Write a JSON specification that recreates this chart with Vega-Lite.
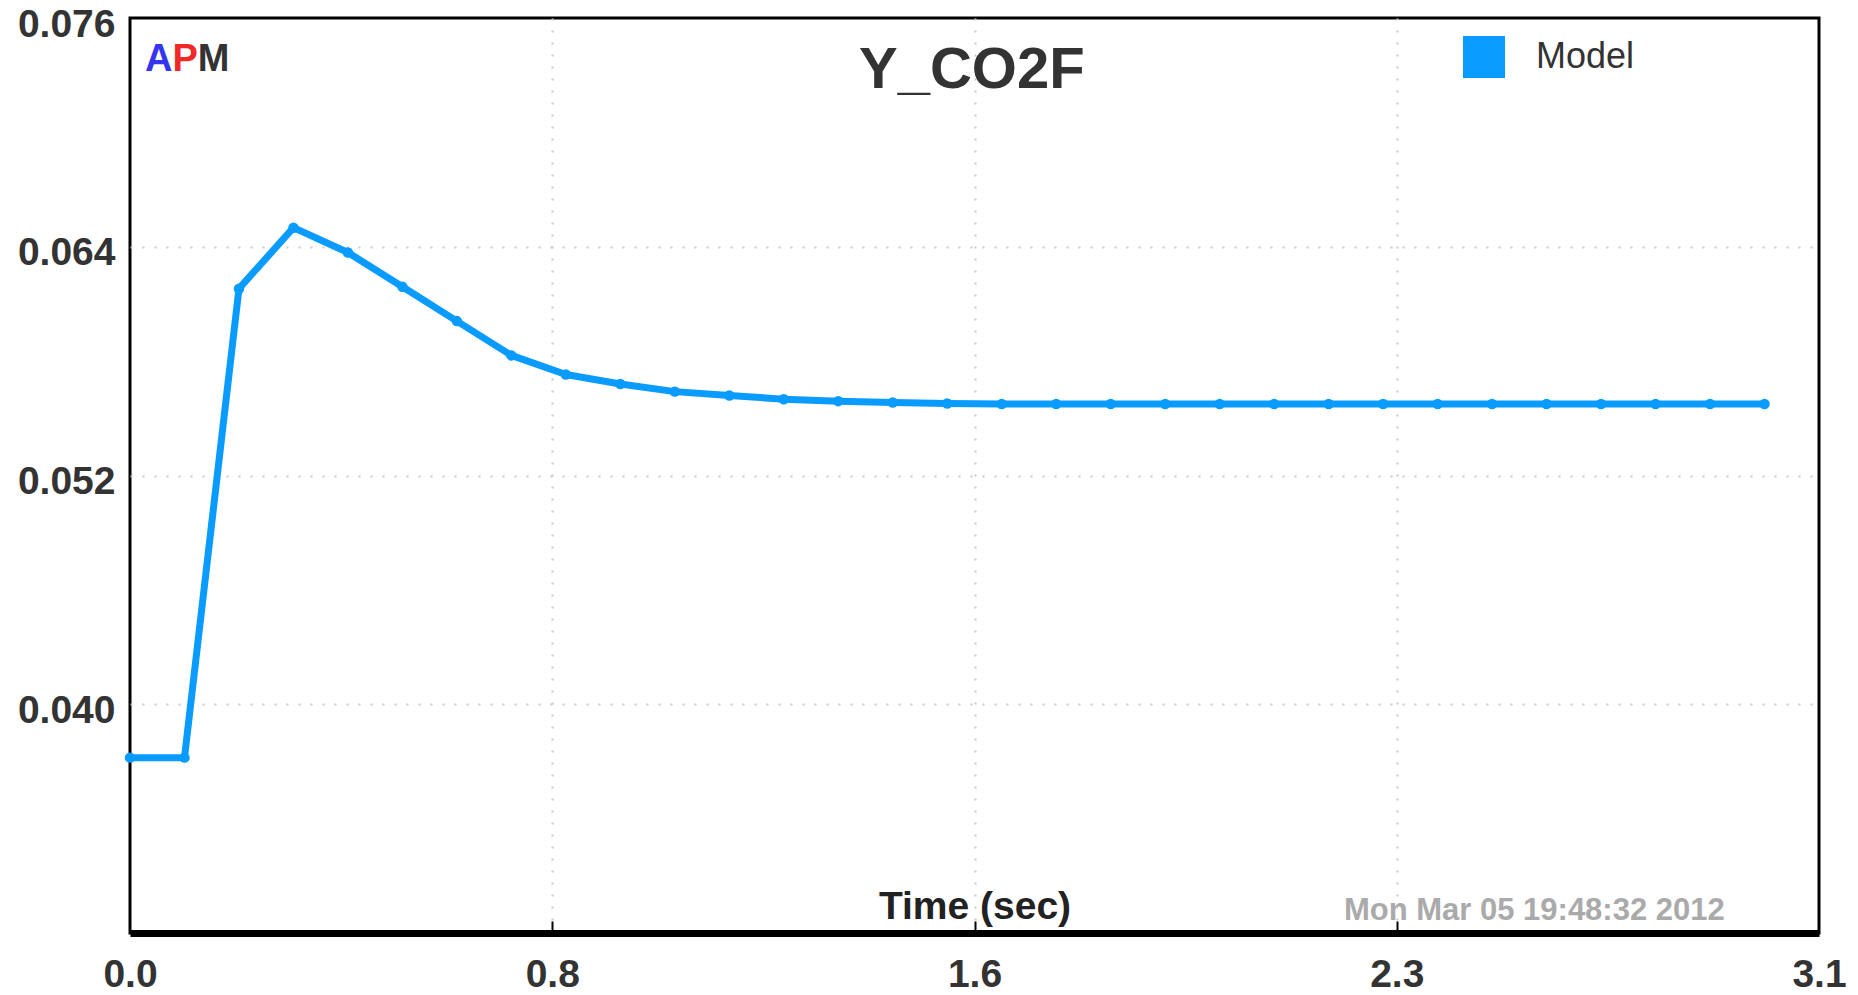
{
  "$schema": "https://vega.github.io/schema/vega-lite/v6.json",
  "width": 1689,
  "height": 915,
  "autosize": "none",
  "padding": {"left": 130, "top": 18, "right": 39, "bottom": 62},
  "background": "white",
  "config": {
    "view": {"stroke": "#000000", "strokeWidth": 3},
    "font": "Liberation Sans"
  },
  "datasets": {
    "model": [
      {"time": 0.0, "value": 0.0372, "series": "Model"},
      {"time": 0.1, "value": 0.0372, "series": "Model"},
      {"time": 0.2, "value": 0.0618, "series": "Model"},
      {"time": 0.3, "value": 0.0650, "series": "Model"},
      {"time": 0.4, "value": 0.0637, "series": "Model"},
      {"time": 0.5, "value": 0.0619, "series": "Model"},
      {"time": 0.6, "value": 0.0601, "series": "Model"},
      {"time": 0.7, "value": 0.0583, "series": "Model"},
      {"time": 0.8, "value": 0.0573, "series": "Model"},
      {"time": 0.9, "value": 0.0568, "series": "Model"},
      {"time": 1.0, "value": 0.0564, "series": "Model"},
      {"time": 1.1, "value": 0.0562, "series": "Model"},
      {"time": 1.2, "value": 0.0560, "series": "Model"},
      {"time": 1.3, "value": 0.0559, "series": "Model"},
      {"time": 1.4, "value": 0.05583, "series": "Model"},
      {"time": 1.5, "value": 0.05578, "series": "Model"},
      {"time": 1.6, "value": 0.05575, "series": "Model"},
      {"time": 1.7, "value": 0.05575, "series": "Model"},
      {"time": 1.8, "value": 0.05575, "series": "Model"},
      {"time": 1.9, "value": 0.05575, "series": "Model"},
      {"time": 2.0, "value": 0.05575, "series": "Model"},
      {"time": 2.1, "value": 0.05575, "series": "Model"},
      {"time": 2.2, "value": 0.05575, "series": "Model"},
      {"time": 2.3, "value": 0.05575, "series": "Model"},
      {"time": 2.4, "value": 0.05575, "series": "Model"},
      {"time": 2.5, "value": 0.05575, "series": "Model"},
      {"time": 2.6, "value": 0.05575, "series": "Model"},
      {"time": 2.7, "value": 0.05575, "series": "Model"},
      {"time": 2.8, "value": 0.05575, "series": "Model"},
      {"time": 2.9, "value": 0.05575, "series": "Model"},
      {"time": 3.0, "value": 0.05575, "series": "Model"}
    ],
    "notes": [{"note": "annotation"}]
  },
  "layer": [
    {
      "data": {"name": "model"},
      "mark": {"type": "line", "strokeWidth": 7, "strokeJoin": "round", "point": {"filled": true, "size": 110}},
      "encoding": {
        "x": {
          "field": "time", "type": "quantitative",
          "scale": {"domain": [0, 3.1], "nice": false, "zero": false},
          "axis": {
            "values": [0, 0.775, 1.55, 2.325, 3.1],
            "format": ".1f",
            "title": "Time (sec)",
            "titleY": -15,
            "titleBaseline": "alphabetic",
            "titleFontSize": 39,
            "titleFontWeight": "bold",
            "titleColor": "#222222",
            "labelFontSize": 39,
            "labelFontWeight": "bold",
            "labelColor": "#333333",
            "labelPadding": 34,
            "labelFlush": false,
            "labelBound": false,
            "labelOverlap": false,
            "ticks": true,
            "tickSize": -12,
            "tickWidth": 2,
            "tickColor": "#000000",
            "tickOpacity": {"condition": {"test": "datum.value == 0 || datum.value == 3.1", "value": 0}, "value": 1},
            "domainColor": "#000000",
            "domainWidth": 7,
            "grid": true,
            "gridColor": "#c8c8c8",
            "gridWidth": 2,
            "gridDash": [2, 10],
            "gridOpacity": {"condition": {"test": "datum.value == 0 || datum.value == 3.1", "value": 0}, "value": 1}
          }
        },
        "y": {
          "field": "value", "type": "quantitative",
          "scale": {"domain": [0.028, 0.076], "nice": false, "zero": false},
          "axis": {
            "values": [0.040, 0.052, 0.064, 0.076],
            "format": ".3f",
            "title": null,
            "labelFontSize": 39,
            "labelFontWeight": "bold",
            "labelColor": "#333333",
            "labelPadding": 15,
            "labelOffset": 6,
            "labelFlush": false,
            "labelBound": false,
            "labelOverlap": false,
            "ticks": false,
            "domain": false,
            "grid": true,
            "gridColor": "#c8c8c8",
            "gridWidth": 2,
            "gridDash": [2, 10],
            "gridOpacity": {"condition": {"test": "datum.value == 0.076", "value": 0}, "value": 1}
          }
        },
        "color": {
          "field": "series", "type": "nominal",
          "scale": {"range": ["#0a9bff"]},
          "legend": {
            "title": null,
            "orient": "none",
            "legendX": 1333,
            "legendY": 18,
            "padding": 0,
            "symbolType": "square",
            "symbolSize": 1764,
            "symbolFillColor": "#0a9bff",
            "symbolStrokeWidth": 0,
            "labelFontSize": 36,
            "labelColor": "#333333",
            "labelOffset": 31
          }
        }
      }
    },
    {
      "data": {"name": "notes"},
      "mark": {"type": "text", "align": "center", "baseline": "alphabetic", "fontSize": 58, "fontWeight": "bold", "color": "#333333"},
      "encoding": {"x": {"datum": 1.545}, "y": {"datum": 0.07234}, "text": {"value": "Y_CO2F"}}
    },
    {
      "data": {"name": "notes"},
      "mark": {"type": "text", "align": "left", "baseline": "alphabetic", "fontSize": 38, "fontWeight": "bold", "color": "#3535f0"},
      "encoding": {"x": {"datum": 0.0275}, "y": {"datum": 0.0732}, "text": {"value": "A"}}
    },
    {
      "data": {"name": "notes"},
      "mark": {"type": "text", "align": "left", "baseline": "alphabetic", "fontSize": 38, "fontWeight": "bold", "color": "#f02828"},
      "encoding": {"x": {"datum": 0.0778}, "y": {"datum": 0.0732}, "text": {"value": "P"}}
    },
    {
      "data": {"name": "notes"},
      "mark": {"type": "text", "align": "left", "baseline": "alphabetic", "fontSize": 38, "fontWeight": "bold", "color": "#333333"},
      "encoding": {"x": {"datum": 0.1243}, "y": {"datum": 0.0732}, "text": {"value": "M"}}
    },
    {
      "data": {"name": "notes"},
      "mark": {"type": "text", "align": "right", "baseline": "alphabetic", "fontSize": 31, "fontWeight": "bold", "color": "#aaaaaa"},
      "encoding": {"x": {"datum": 2.927}, "y": {"datum": 0.0287}, "text": {"value": "Mon Mar 05 19:48:32 2012"}}
    }
  ]
}
